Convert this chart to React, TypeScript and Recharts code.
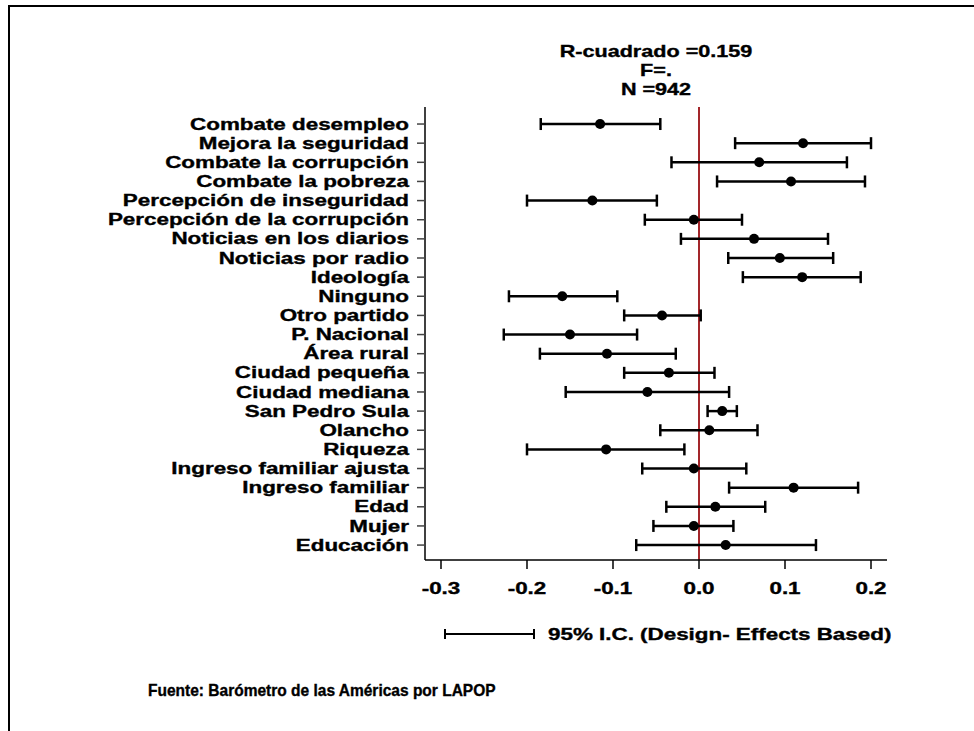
import React from 'react';
import { ScatterChart, Scatter, XAxis, YAxis, ErrorBar, ReferenceLine } from 'recharts';

// variables del modelo (de arriba hacia abajo)
const variables = [
  'Combate desempleo',
  'Mejora la seguridad',
  'Combate la corrupción',
  'Combate la pobreza',
  'Percepción de inseguridad',
  'Percepción de la corrupción',
  'Noticias en los diarios',
  'Noticias por radio',
  'Ideología',
  'Ninguno',
  'Otro partido',
  'P. Nacional',
  'Área rural',
  'Ciudad pequeña',
  'Ciudad mediana',
  'San Pedro Sula',
  'Olancho',
  'Riqueza',
  'Ingreso familiar ajusta',
  'Ingreso familiar',
  'Edad',
  'Mujer',
  'Educación',
];

// coeficientes estandarizados
const coeficientes = [
  -0.115, 0.121, 0.07, 0.107, -0.124, -0.006, 0.064, 0.094, 0.12, -0.159, -0.043, -0.15,
  -0.107, -0.035, -0.06, 0.027, 0.012, -0.108, -0.006, 0.11, 0.019, -0.006, 0.031,
];

// límites del intervalo de confianza 95%
const limiteInferior = [
  -0.184, 0.042, -0.032, 0.021, -0.2, -0.063, -0.021, 0.034, 0.051, -0.221, -0.087, -0.227,
  -0.185, -0.087, -0.155, 0.01, -0.045, -0.2, -0.066, 0.035, -0.038, -0.053, -0.073,
];
const limiteSuperior = [
  -0.045, 0.2, 0.172, 0.193, -0.049, 0.05, 0.15, 0.156, 0.188, -0.095, 0.002, -0.072,
  -0.027, 0.018, 0.035, 0.044, 0.068, -0.017, 0.055, 0.185, 0.077, 0.04, 0.136,
];

const ticksX = [-0.3, -0.2, -0.1, 0.0, 0.1, 0.2];

const tituloLineas = ['R-cuadrado =0.159', 'F=.', 'N =942'];
const leyendaTexto = '95% I.C. (Design- Effects Based)';
const fuenteTexto = 'Fuente: Barómetro de las Américas por LAPOP';

const FONT = "'Liberation Sans', Arial, Helvetica, sans-serif";
const STRETCH = 1.4;

const data = variables.map((nombre, i) => ({
  idx: i,
  nombre,
  coef: coeficientes[i],
  err: [coeficientes[i] - limiteInferior[i], limiteSuperior[i] - coeficientes[i]],
}));

// texto estirado horizontalmente como en el gráfico original
const WideText = ({ x, y, children, anchor = 'start', size = 16, sx = STRETCH, dy = '0.35em' }: any) => (
  <text
    transform={`translate(${x},${y}) scale(${sx},1)`}
    x={0}
    y={0}
    dy={dy}
    textAnchor={anchor}
    fontFamily={FONT}
    fontWeight="bold"
    fontSize={size}
    fill="#000"
    stroke="#000"
    strokeWidth={0.35}
  >
    {children}
  </text>
);

const YTick = (props: any) => {
  const { x, y, payload } = props;
  return <WideText x={x} y={y} anchor="end">{variables[payload.value]}</WideText>;
};

const XTick = (props: any) => {
  const { x, y, payload } = props;
  return (
    <WideText x={x} y={y} anchor="middle" dy="0.71em">
      {Number(payload.value).toFixed(1)}
    </WideText>
  );
};

const Punto = (props: any) => <circle cx={props.cx} cy={props.cy} r={5} fill="#000" />;

export default function App() {
  return (
    <div
      style={{
        position: 'absolute',
        left: 0,
        top: 0,
        width: 974,
        height: 731,
        overflow: 'hidden',
        background: '#fff',
      }}
    >
      <div
        style={{
          position: 'absolute',
          left: 8,
          top: 5,
          width: 1100,
          height: 900,
          borderTop: '2px solid #000',
          borderLeft: '2px solid #000',
        }}
      />
      <div style={{ position: 'absolute', left: 0, top: 0 }}>
        <ScatterChart width={974} height={731} margin={{ top: 107, right: 87, bottom: 141, left: 185 }}>
          <XAxis
            type="number"
            dataKey="coef"
            domain={[-0.3186, 0.2186]}
            allowDataOverflow
            ticks={ticksX}
            tick={<XTick />}
            height={30}
            tickSize={9}
            tickMargin={14}
            axisLine={{ stroke: '#000', strokeWidth: 1.5 }}
            tickLine={{ stroke: '#000', strokeWidth: 1.5 }}
          />
          <YAxis
            type="number"
            dataKey="idx"
            reversed
            domain={[-0.89, 22.78]}
            allowDataOverflow
            ticks={variables.map((_, i) => i)}
            interval={0}
            width={240}
            tick={<YTick />}
            tickSize={8}
            tickMargin={8}
            axisLine={{ stroke: '#000', strokeWidth: 1.5 }}
            tickLine={{ stroke: '#444', strokeWidth: 1.5 }}
          />
          <ReferenceLine x={0} stroke="#a3262a" strokeWidth={2} />
          <Scatter data={data} shape={<Punto />} isAnimationActive={false}>
            <ErrorBar
              dataKey="err"
              direction="x"
              width={6}
              stroke="#000"
              strokeWidth={2.5}
              isAnimationActive={false}
            />
          </Scatter>
        </ScatterChart>
      </div>
      <svg
        width={974}
        height={731}
        style={{ position: 'absolute', left: 0, top: 0, pointerEvents: 'none' }}
      >
        {tituloLineas.map((t, i) => (
          <WideText key={t} x={656} y={51 + i * 19} anchor="middle" size={16} sx={1.35}>
            {t}
          </WideText>
        ))}
        <g stroke="#000" strokeWidth={2}>
          <line x1={445} y1={634} x2={534} y2={634} />
          <line x1={445} y1={629} x2={445} y2={639} />
          <line x1={534} y1={629} x2={534} y2={639} />
        </g>
        <WideText x={548} y={634}>{leyendaTexto}</WideText>
        <WideText x={148} y={690} size={16} sx={0.97}>{fuenteTexto}</WideText>
      </svg>
    </div>
  );
}
